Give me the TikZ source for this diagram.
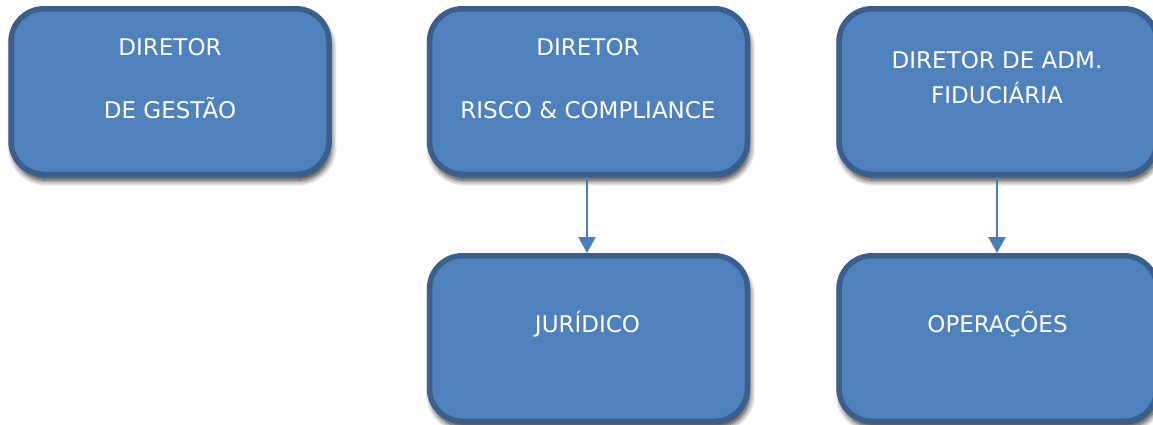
\documentclass[tikz,border=0pt]{standalone}
\usepackage{fontspec}
\setmainfont{DejaVu Sans}
\usetikzlibrary{arrows.meta,shadows.blur}
\definecolor{boxfill}{HTML}{4F81BD}
\definecolor{boxline}{HTML}{3A5F8D}
\definecolor{arrowc}{HTML}{4A7EBB}
\tikzset{
  orgbox/.style={draw=boxline, fill=boxfill, line width=5.5pt, rounded corners=33pt,
    minimum width=318pt, minimum height=165.5pt, inner sep=0pt,
    blur shadow={shadow xshift=2pt, shadow yshift=-6pt, shadow blur radius=6pt, shadow blur steps=12, shadow opacity=85}},
  boxtext/.style={text=white, anchor=base, inner sep=0pt, font=\fontsize{23}{28}\selectfont},
  link/.style={draw=arrowc, line width=2pt, -{Triangle[length=16pt,width=17pt]}}
}
\begin{document}
\begin{tikzpicture}[x=1pt,y=-1pt]
\useasboundingbox (0,0) rectangle (1153,424);
\node[orgbox] (b1) at (170,91.5) {};
\node[orgbox] (b2) at (588.5,91.5) {};
\node[orgbox] (b3) at (998,91.5) {};
\node[orgbox] (b4) at (588.5,338.5) {};
\node[orgbox] (b5) at (998,338.5) {};
\node[boxtext] (t1a) at (170,55) {DIRETOR};
\node[boxtext] (t1b) at (170,118) {DE GESTÃO};
\node[boxtext] (t2a) at (588,55) {DIRETOR};
\node[boxtext] (t2b) at (588,118) {RISCO \& COMPLIANCE};
\node[boxtext] (t3a) at (997,68) {DIRETOR DE ADM.};
\node[boxtext] (t3b) at (997,103) {FIDUCIÁRIA};
\node[boxtext] (t4) at (587.5,332) {JURÍDICO};
\node[boxtext] (t5) at (997.5,332) {OPERAÇÕES};
\draw[link] ([xshift=-1.5pt]b2.south) -- ([xshift=-1.5pt]b4.north);
\draw[link] ([xshift=-1pt]b3.south) -- ([xshift=-1pt]b5.north);
\end{tikzpicture}
\end{document}
